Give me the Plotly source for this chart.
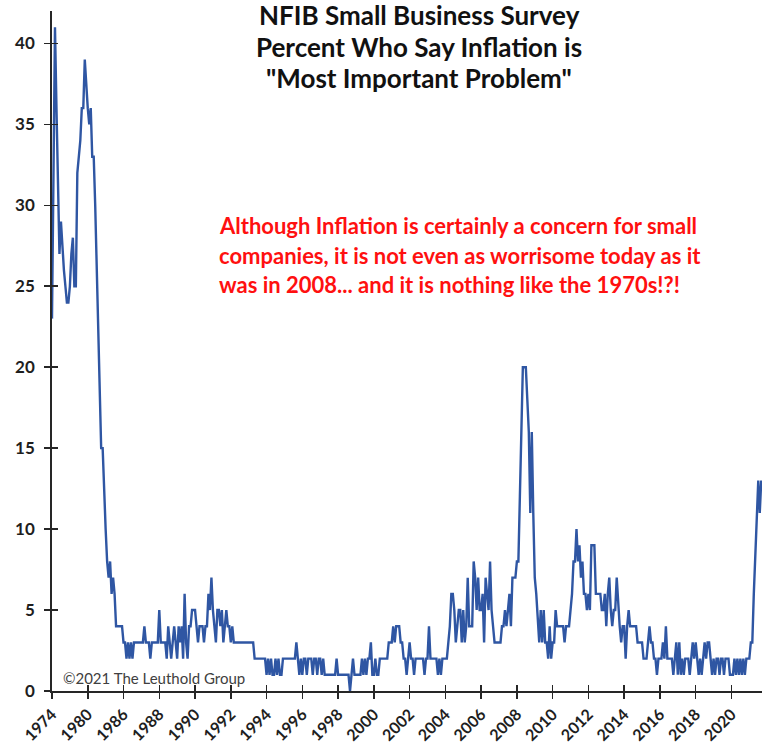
import plotly.graph_objects as go

# ---------------- data ----------------
# Quarterly readings 1974Q1 - 1985Q4 (percent)
quarterly_1974_1985 = [
    23, 32, 41, 36,   # 1974
    30, 27, 29, 27,   # 1975
    26, 25, 24, 24,   # 1976
    25, 27, 28, 25,   # 1977
    25, 32, 33, 34,   # 1978
    36, 36, 39, 37,   # 1979
    36, 35, 36, 33,   # 1980
    33, 30, 26, 22,   # 1981
    19, 15, 15, 12,   # 1982
    10, 8, 7, 8,      # 1983
    6, 7, 6, 4,       # 1984
    4, 4, 4, 4,       # 1985
]

# Monthly readings 1986 - 1995
monthly_1986_1995 = [
    3, 3, 2, 3, 2, 3, 2, 3, 3, 3, 3, 3,   # 1986
    3, 3, 4, 3, 3, 3, 2, 3, 3, 3, 3, 3,   # 1987
    5, 3, 3, 3, 3, 2, 4, 3, 2, 3, 4, 3,   # 1988
    2, 4, 3, 4, 2, 6, 3, 2, 4, 4, 5, 5,   # 1989
    5, 4, 3, 4, 4, 4, 3, 4, 4, 6, 5, 7,   # 1990
    5, 4, 3, 5, 5, 4, 5, 3, 4, 5, 4, 4,   # 1991
    3, 4, 3, 3, 3, 3, 3, 3, 3, 3, 3, 3,   # 1992
    3, 3, 3, 3, 2, 2, 2, 2, 2, 2, 2, 2,   # 1993
    1, 2, 1, 2, 1, 1, 2, 1, 2, 1, 1, 2,   # 1994
    2, 2, 2, 2, 2, 2, 2, 2, 3, 2, 1, 2,   # 1995
]

# Monthly readings 1996 - 2005
monthly_1996_2005 = [
    1, 2, 2, 1, 2, 2, 2, 1, 2, 2, 1, 2,   # 1996
    2, 1, 2, 1, 1, 1, 1, 1, 1, 1, 1, 2,   # 1997
    1, 1, 1, 1, 1, 1, 1, 1, 0, 1, 2, 1,   # 1998
    1, 1, 1, 1, 2, 1, 2, 1, 2, 2, 3, 1,   # 1999
    1, 2, 1, 1, 2, 2, 2, 2, 2, 2, 3, 3,   # 2000
    3, 4, 3, 4, 4, 4, 3, 3, 2, 2, 1, 2,   # 2001
    3, 2, 2, 1, 2, 2, 2, 2, 2, 2, 1, 2,   # 2002
    2, 4, 2, 2, 2, 2, 2, 1, 2, 1, 2, 2,   # 2003
    2, 2, 3, 4, 6, 6, 5, 3, 4, 5, 5, 3,   # 2004
    5, 3, 4, 7, 4, 4, 4, 8, 7, 5, 7, 5,   # 2005
]

# Monthly readings 2006 - 2015
monthly_2006_2015 = [
    5, 6, 3, 7, 6, 5, 8, 5, 4, 3, 3, 3,   # 2006
    3, 3, 4, 4, 5, 4, 5, 6, 4, 7, 7, 7,   # 2007
    8, 8, 12, 16, 20, 20, 20, 18, 16, 11, 16, 11,  # 2008
    7, 6, 4, 3, 5, 3, 5, 3, 3, 2, 4, 2,   # 2009
    3, 3, 5, 4, 4, 4, 4, 4, 3, 4, 4, 4,   # 2010
    5, 6, 8, 8, 10, 8, 9, 7, 8, 6, 6, 5,  # 2011
    6, 5, 9, 9, 9, 6, 6, 6, 6, 5, 5, 6,   # 2012
    4, 6, 7, 5, 4, 5, 5, 7, 5, 4, 3, 4,   # 2013
    4, 2, 4, 5, 4, 4, 4, 4, 4, 3, 3, 3,   # 2014
    3, 2, 2, 2, 3, 4, 3, 3, 2, 2, 1, 2,   # 2015
]

# Monthly readings 2016 - Sep 2021
monthly_2016_2021 = [
    2, 2, 3, 2, 4, 2, 2, 2, 2, 1, 2, 3,   # 2016
    1, 3, 1, 2, 1, 2, 2, 2, 1, 2, 3, 2,   # 2017
    3, 2, 1, 2, 1, 2, 3, 2, 3, 3, 2, 1,   # 2018
    2, 1, 2, 2, 1, 2, 2, 1, 2, 2, 2, 1,   # 2019
    1, 1, 2, 1, 2, 1, 2, 1, 2, 1, 2, 2,   # 2020
    2, 3, 3, 6, 8, 11, 13, 11, 13,        # 2021 (Jan-Sep)
]

tick_years = ["1974", "1980", "1986", "1988", "1990", "1992", "1994", "1996",
              "1998", "2000", "2002", "2004", "2006", "2008", "2010", "2012",
              "2014", "2016", "2018", "2020"]
y_ticks = [0, 5, 10, 15, 20, 25, 30, 35, 40]

# ---------------- categories ----------------
values = quarterly_1974_1985 + monthly_1986_1995 + monthly_1996_2005 + \
    monthly_2006_2015 + monthly_2016_2021

periods = []
for yr in range(1974, 1986):
    for q in range(1, 5):
        periods.append(f"{yr} Q{q}")
yr, mo = 1986, 1
while len(periods) < len(values):
    periods.append(f"{yr} M{mo:02d}")
    mo += 1
    if mo > 12:
        mo, yr = 1, yr + 1

tick_cats = [f"{y} Q1" if int(y) < 1986 else f"{y} M01" for y in tick_years]

# ---------------- figure ----------------
LINE_COLOR = "#2f56a3"
AXIS_COLOR = "#262626"
FONT = "Lato"

fig = go.Figure()
fig.add_trace(go.Scatter(
    x=periods, y=values, mode="lines",
    line=dict(color=LINE_COLOR, width=2.4),
    hoverinfo="skip", showlegend=False,
))
# invisible copy to drive the inner half of the crossing tick marks
fig.add_trace(go.Scatter(
    x=periods, y=values, mode="lines", xaxis="x2", yaxis="y2",
    line=dict(color="rgba(0,0,0,0)", width=0), opacity=0,
    hoverinfo="skip", showlegend=False,
))

xr = [0, len(values) - 0.5]
yr_ = [0, 42]
y_tick_font = dict(family=FONT, size=17, color="#1e1e1e", weight="bold")
x_tick_font = dict(family=FONT, size=16, color="#1e1e1e", weight="bold")

fig.update_layout(
    width=771, height=745,
    margin=dict(l=52, r=9, t=11, b=54, autoexpand=False),
    paper_bgcolor="white", plot_bgcolor="white",
    hovermode=False,
    xaxis=dict(
        type="category", range=xr, tickmode="array", automargin=False,
        tickvals=tick_cats, ticktext=tick_years, tickangle=-45,
        ticks="outside", ticklen=6, tickwidth=1.5, tickcolor=AXIS_COLOR,
        showline=True, linecolor=AXIS_COLOR, linewidth=1.8,
        showgrid=False, zeroline=False, tickfont=x_tick_font,
    ),
    yaxis=dict(
        range=yr_, tickmode="array", tickvals=y_ticks, automargin=False,
        ticks="outside", ticklen=6, tickwidth=1.5, tickcolor=AXIS_COLOR,
        showline=True, linecolor=AXIS_COLOR, linewidth=1.8,
        showgrid=False, zeroline=False, tickfont=y_tick_font,
        ticklabelstandoff=6,
    ),
    xaxis2=dict(
        type="category", range=xr, overlaying="x", anchor="y2", side="bottom",
        tickmode="array", tickvals=tick_cats, showticklabels=False,
        automargin=False,
        ticks="inside", ticklen=6, tickwidth=1.5, tickcolor=AXIS_COLOR,
        showline=False, showgrid=False, zeroline=False,
    ),
    yaxis2=dict(
        range=yr_, overlaying="y", anchor="x2", side="left",
        tickmode="array", tickvals=y_ticks, showticklabels=False,
        automargin=False,
        ticks="inside", ticklen=6, tickwidth=1.5, tickcolor=AXIS_COLOR,
        showline=False, showgrid=False, zeroline=False,
    ),
)

title_lines = ["NFIB Small Business Survey",
               "Percent Who Say Inflation is",
               "\"Most Important Problem\""]
title_y = [0.994, 0.947, 0.901]
for txt, yy in zip(title_lines, title_y):
    fig.add_annotation(
        text=txt, xref="paper", yref="paper", x=0.517, y=yy,
        xanchor="center", yanchor="middle", showarrow=False,
        font=dict(family=FONT, size=26, color="#111111", weight="bold"),
    )

note_lines = ["Although Inflation is certainly a concern for small",
              "companies, it is not even as worrisome today as it",
              "was in 2008... and it is nothing like the 1970s!?!"]
note_y = [0.685, 0.641, 0.598]
for txt, yy in zip(note_lines, note_y):
    fig.add_annotation(
        text=txt, xref="paper", yref="paper", x=0.232, y=yy,
        xanchor="left", yanchor="middle", showarrow=False,
        font=dict(family=FONT, size=22, color="#ff1010", weight="bold"),
    )

fig.add_annotation(
    text="©2021 The Leuthold Group", xref="paper", yref="paper",
    x=0.013, y=0.019, xanchor="left", yanchor="middle", showarrow=False,
    font=dict(family=FONT, size=15, color="#404040"),
)

fig.write_html(
    "out.html",
    config={"displayModeBar": False, "staticPlot": True},
    post_script="document.documentElement.style.margin='0';"
                "document.body.style.margin='0';"
                "document.body.style.overflow='hidden';",
)
